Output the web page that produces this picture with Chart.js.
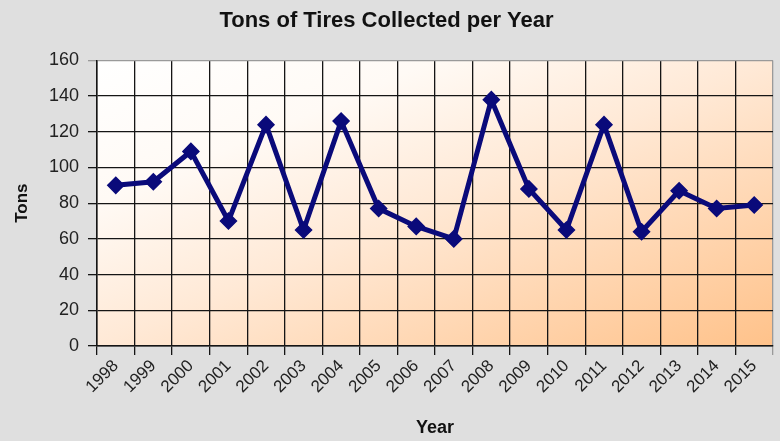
<!DOCTYPE html>
<html>
<head>
<meta charset="utf-8">
<script src="https://cdn.jsdelivr.net/npm/chart.js@4"></script>
<style>
  html, body { margin: 0; padding: 0; background: #dfdfdf; }
  #wrap { width: 780px; height: 441px; position: relative; }
</style>
</head>
<body>
<div id="wrap"><canvas id="tires"></canvas></div>
<script>
// Data
const years = ['1998', '1999', '2000', '2001', '2002', '2003', '2004', '2005', '2006',
               '2007', '2008', '2009', '2010', '2011', '2012', '2013', '2014', '2015'];
const tons = [90, 92, 109, 70, 124, 65, 126, 77, 67, 60, 138, 88, 65, 124, 64, 87, 77, 79];

// Plot area gradient: white top-left to orange bottom-right (diagonal, Excel style)
const plotBackground = {
    id: 'plotBackground',
    beforeDraw(chart) {
        const { ctx, chartArea: a } = chart;
        const w = a.right - a.left, h = a.bottom - a.top;
        const t = 2 * w * h / (w * w + h * h);
        const g = ctx.createLinearGradient(a.left, a.top, a.left + h * t, a.top + w * t);
        g.addColorStop(0, '#ffffff');
        g.addColorStop(0.25, '#fffaf5');
        g.addColorStop(0.5, '#ffe9d6');
        g.addColorStop(1, '#ffc28a');
        ctx.save();
        ctx.fillStyle = g;
        ctx.fillRect(a.left, a.top, w, h);
        ctx.restore();
    }
};

const font = 'Liberation Sans, Arial, sans-serif';

new Chart(document.getElementById('tires'), {
    type: 'line',
    data: {
        labels: years,
        datasets: [{
            label: 'Tons',
            data: tons,
            borderColor: '#0a0a7a',
            backgroundColor: '#0a0a7a',
            borderWidth: 5,
            pointStyle: 'rectRot',
            pointRadius: 8,
            pointHoverRadius: 8,
            pointBorderWidth: 1.5,
            tension: 0
        }]
    },
    options: {
        responsive: true,
        maintainAspectRatio: false,
        animation: false,
        // marker overflow should not push the plot area in
        layout: { autoPadding: false, padding: { right: 7, left: 0, bottom: 0, top: 0 } },
        plugins: {
            legend: { display: false },
            tooltip: { enabled: false },
            title: {
                display: true,
                text: 'Tons of Tires Collected per Year',
                color: '#111',
                font: { family: font, size: 22, weight: 'bold' },
                padding: { top: 8, bottom: 26 }
            }
        },
        scales: {
            x: {
                offset: true,
                grid: {
                    offset: true,
                    // last boundary line (plot edge) is grey
                    color: (c) => c.type !== 'tick' ? '#9a9a9a' : '#151515',
                    lineWidth: 1.3,
                    tickLength: 9
                },
                border: { color: '#151515', width: 1.5 },
                ticks: {
                    color: '#222',
                    font: { family: font, size: 17 },
                    minRotation: 45,
                    maxRotation: 45,
                    padding: 1,
                    autoSkip: false
                },
                title: {
                    display: true,
                    text: 'Year',
                    color: '#111',
                    font: { family: font, size: 18, weight: 'bold' },
                    padding: { top: 4, bottom: 2 }
                },
                afterFit: (scale) => {
                    scale.height = 95;
                    scale.paddingLeft = 0;
                    scale.paddingRight = 0;
                }
            },
            y: {
                min: 0,
                max: 160,
                grid: {
                    color: (c) => c.tick && c.tick.value === 160 ? '#9a9a9a' : '#151515',
                    lineWidth: 1.3,
                    tickLength: 9
                },
                border: { color: '#151515', width: 1.5 },
                ticks: {
                    stepSize: 20,
                    color: '#222',
                    font: { family: font, size: 18 },
                    padding: 9
                },
                title: {
                    display: true,
                    text: 'Tons',
                    color: '#111',
                    font: { family: font, size: 17, weight: 'bold' },
                    padding: { top: 12, bottom: 0 }
                },
                afterFit: (scale) => { scale.width = 97; }
            }
        }
    },
    plugins: [plotBackground]
});
</script>
</body>
</html>
